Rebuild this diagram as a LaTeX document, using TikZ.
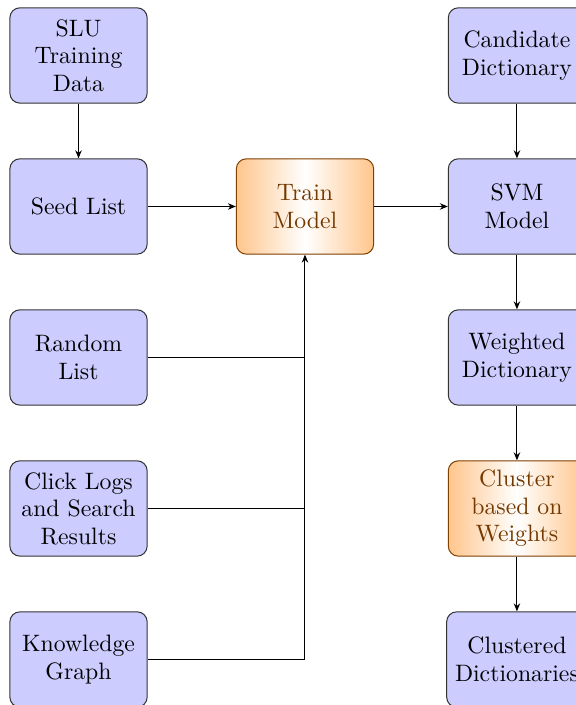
\documentclass[tikz,border=0pt]{standalone}
\usetikzlibrary{
    arrows.meta,
    positioning,
    calc
}
\tikzset{
  block/.style  = {draw=black!80, fill=blue!20, rounded corners=4pt,
                   minimum width=1.93cm, minimum height=1.34cm,
                   align=center, font=\fontsize{9.5}{11}\selectfont},
  hblock/.style = {block, draw=orange!50!black, text=orange!45!black,
                   left color=orange!45, right color=orange!45,
                   middle color=white},
  arr/.style    = {-{Stealth[length=3.2pt, width=2.6pt]}, black}
}

\begin{document}
\begin{tikzpicture}
    \useasboundingbox (-1.104, 0.780) rectangle (6.994, -9.132);
    % Inputs
    \node[block](slu)    at (0, 0)      {SLU\\Training\\Data};
    \node[block](seed)   at (0,-2.123)  {Seed List};
    \node[block](rand)   at (0,-4.246)  {Random\\List};
    \node[block](click)  at (0,-6.369)  {Click Logs\\and Search\\Results};
    \node[block](know)   at (0,-8.492)  {Knowledge\\Graph};
    % Model
    \node[hblock](train) at (3.184,-2.123) {Train\\Model};
    % Dictionaries
    \node[block](cand)   at (6.164, 0)     {Candidate\\Dictionary};
    \node[block](svm)    at (6.164,-2.123) {SVM\\Model};
    \node[block](wdict)  at (6.164,-4.246) {Weighted\\Dictionary};
    \node[hblock](clus)  at (6.164,-6.369) {Cluster\\based on\\Weights};
    \node[block](cdict)  at (6.164,-8.492) {Clustered\\Dictionaries};

    \draw[arr](slu)--(seed); \draw[arr](seed)--(train);
    \draw[arr](train)--(svm); \draw[arr](cand)--(svm);
    \draw[arr](svm)--(wdict); \draw[arr](wdict)--(clus);
    \draw[arr](clus)--(cdict);
    \draw(rand.east)--(rand.east -| train.south);
    \draw(click.east)--(click.east -| train.south);
    \draw[arr](know.east) -| (train.south);
  \end{tikzpicture}
\end{document}
